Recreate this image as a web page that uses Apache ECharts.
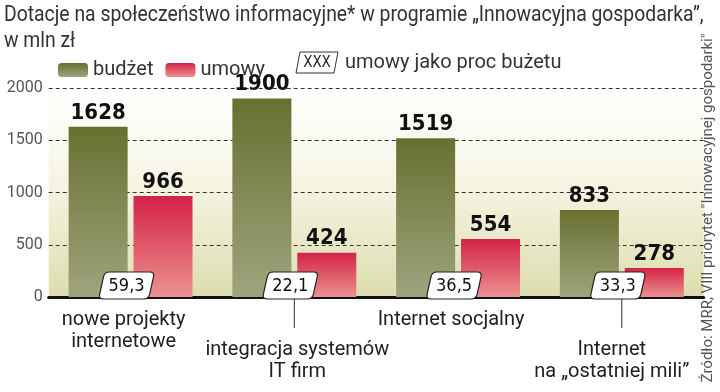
<!DOCTYPE html>
<html>
<head>
<meta charset="utf-8">
<script src="https://cdn.jsdelivr.net/npm/echarts@6/dist/echarts.min.js"></script>
<style>html,body{margin:0;padding:0;background:#fff}#c{width:720px;height:392px}</style>
</head>
<body>
<div id="c"></div>
<script>
const categories = ['nowe projekty\ninternetowe', 'integracja systemów\nIT firm', 'Internet socjalny', 'Internet\nna \u201eostatniej mili\u201d'];
const budzet = [1628, 1900, 1519, 833];
const umowy = [966, 424, 554, 278];
const procent = [59.3, 22.1, 36.5, 33.3];
const yTicks = [0, 500, 1000, 1500, 2000];
const titleLine1 = 'Dotacje na społeczeństwo informacyjne* w programie \u201eInnowacyjna gospodarka\u201d,';
const titleLine2 = 'w mln zł';
const sourceText = 'Źródło: MRR, VIII priorytet "Innowacyjnej gospodarki"';

const lightFont = "Roboto, 'Open Sans', sans-serif";
const narrowFont = "'Liberation Sans Narrow', 'DejaVu Sans Condensed', sans-serif";
const lowLabel = [false, true, false, true];

function roundedPath(pts, r) {
  const n = pts.length;
  let d = '';
  for (let k = 0; k < n; k++) {
    const P = pts[k], A = pts[(k - 1 + n) % n], B = pts[(k + 1) % n];
    const la = Math.hypot(A[0] - P[0], A[1] - P[1]), lb = Math.hypot(B[0] - P[0], B[1] - P[1]);
    const p1 = [P[0] + (A[0] - P[0]) * r / la, P[1] + (A[1] - P[1]) * r / la];
    const p2 = [P[0] + (B[0] - P[0]) * r / lb, P[1] + (B[1] - P[1]) * r / lb];
    d += (k === 0 ? 'M' : 'L') + p1[0] + ' ' + p1[1] + ' Q' + P[0] + ' ' + P[1] + ' ' + p2[0] + ' ' + p2[1] + ' ';
  }
  return d + 'Z';
}

const labelStyle = { fontFamily: lightFont, fontSize: 20, lineHeight: 22, color: '#222' };
const rich = {
  c0: Object.assign({ padding: [0, 14, 0, 0] }, labelStyle),
  c1: Object.assign({ padding: [0, 0, 0, 6] }, labelStyle),
  c2: Object.assign({ padding: [0, 14, 0, 0] }, labelStyle),
  c3: Object.assign({ padding: [0, 20, 0, 0] }, labelStyle)
};
function fmt(v, i) {
  return v.split('\n').map(l => '{c' + i + '|' + l + '}').join('\n');
}

const chart = echarts.init(document.getElementById('c'));
chart.setOption({
  animation: false,
  legend: {
    data: ['budżet', 'umowy'], left: 53, top: 55, itemWidth: 30, itemHeight: 14, itemGap: 12,
    icon: 'roundRect',
    textStyle: { fontFamily: lightFont, fontSize: 20, color: '#333' }
  },
  graphic: [
    { type: 'text', x: 4, y: 16, scaleX: 0.9,
      style: { text: titleLine1, fontFamily: lightFont, fontSize: 21.5, fill: '#333', verticalAlign: 'middle' } },
    { type: 'text', x: 4, y: 42, scaleX: 0.9,
      style: { text: titleLine2, fontFamily: lightFont, fontSize: 21.5, fill: '#333', verticalAlign: 'middle' } },
    { type: 'polygon', shape: { points: [[300, 52], [338, 52], [334, 73], [296, 73]] },
      style: { fill: '#fff', stroke: '#333', lineWidth: 1 } },
    { type: 'text', x: 317, y: 63, style: { text: 'XXX', fontFamily: narrowFont, fontSize: 15, fill: '#222', align: 'center', verticalAlign: 'middle' } },
    { type: 'text', x: 345, y: 63, style: { text: 'umowy jako proc bużetu', fontFamily: lightFont, fontSize: 20, fill: '#333', verticalAlign: 'middle' } },
    { type: 'text', x: 708, y: 208, rotation: Math.PI / 2,
      style: { text: sourceText, fontFamily: lightFont, fontSize: 15, fill: '#555', align: 'center', verticalAlign: 'middle' } }
  ],
  grid: {
    left: 48.7, right: 16.3, top: 88, bottom: 95, show: true, borderWidth: 0,
    backgroundColor: { type: 'linear', x: 0, y: 0, x2: 0, y2: 1,
      colorStops: [{ offset: 0, color: '#ffffff' }, { offset: 0.45, color: '#f6f5e4' }, { offset: 1, color: '#dcddae' }] }
  },
  xAxis: [
    { type: 'category', data: categories, position: 'bottom',
      axisLine: { lineStyle: { color: '#111', width: 3 } }, axisTick: { show: false },
      axisLabel: { interval: 0, margin: 12, rich: rich,
        formatter: (v, i) => lowLabel[i] ? '' : fmt(v, i) } },
    { type: 'category', data: categories, position: 'bottom',
      axisLine: { show: false }, axisTick: { show: false },
      axisLabel: { interval: 0, margin: 42, rich: rich,
        formatter: (v, i) => lowLabel[i] ? fmt(v, i) : '' } }
  ],
  yAxis: {
    type: 'value', min: yTicks[0], max: yTicks[yTicks.length - 1], interval: 500,
    axisLine: { show: false }, axisTick: { show: false },
    axisLabel: { margin: 6, fontFamily: lightFont, fontSize: 16, color: '#555', formatter: v => String(v) },
    splitLine: { lineStyle: { color: '#333', type: [4, 3], width: 1 } }
  },
  series: [
    { name: 'budżet', type: 'bar', data: budzet, barWidth: 59, barGap: '10%',
      itemStyle: { color: { type: 'linear', x: 0, y: 0, x2: 0, y2: 1,
        colorStops: [{ offset: 0, color: '#687030' }, { offset: 1, color: '#9fa47e' }] } },
      label: { show: true, position: 'top', distance: 3, fontFamily: narrowFont, fontWeight: 'bold', fontSize: 22, color: '#111' } },
    { name: 'umowy', type: 'bar', data: umowy, barWidth: 59,
      itemStyle: { color: { type: 'linear', x: 0, y: 0, x2: 0, y2: 1,
        colorStops: [{ offset: 0, color: '#d42246' }, { offset: 1, color: '#eb9290' }] } },
      label: { show: true, position: 'top', distance: 3, fontFamily: narrowFont, fontWeight: 'bold', fontSize: 22, color: '#111' } },
    { name: 'proc', type: 'custom', z: 10, clip: false,
      data: procent.map((p, i) => [i, p]),
      encode: { x: 0, y: 1 },
      renderItem: function (params, api) {
        const i = api.value(0);
        const c = api.coord([i, 0]);
        const x = c[0] - 4, y = c[1];
        const top = y - 25, bot = y + 2, hw = 25, s = 3;
        const pts = [[x - hw + s, top], [x + hw + s, top], [x + hw - s, bot], [x - hw - s, bot]];
        const children = [
          { type: 'path', shape: { pathData: roundedPath(pts, 5), x: x - hw - s, y: top, width: 2 * hw + 2 * s, height: bot - top },
            style: { fill: '#fff', stroke: '#222', lineWidth: 1.2 } },
          { type: 'text', x: x, y: (top + bot) / 2 + 1,
            style: { text: procent[i].toFixed(1).replace('.', ','), fontFamily: narrowFont, fontSize: 18, fill: '#111', align: 'center', verticalAlign: 'middle' } }
        ];
        if (lowLabel[i]) {
          children.unshift({ type: 'line', shape: { x1: c[0], y1: bot, x2: c[0], y2: y + 31 }, style: { stroke: '#333', lineWidth: 1 } });
        }
        return { type: 'group', children: children };
      }
    }
  ]
});
</script>
</body>
</html>
